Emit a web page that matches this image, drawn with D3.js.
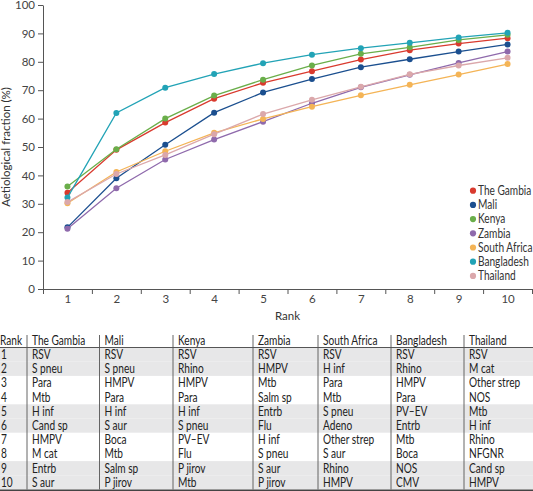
<!DOCTYPE html>
<html>
<head>
<meta charset="utf-8">
<script src="https://cdn.jsdelivr.net/npm/d3@7"></script>
<style>
  html, body { margin: 0; padding: 0; background: #fff; }
  svg { display: block; font-family: Lato, "Open Sans", sans-serif; }
</style>
</head>
<body>
<svg id="chart" width="533" height="491"></svg>
<script>
const ranks = [1, 2, 3, 4, 5, 6, 7, 8, 9, 10];
const countries = ["The Gambia", "Mali", "Kenya", "Zambia", "South Africa", "Bangladesh", "Thailand"];
const colors = ["#d93a2e", "#1b4f8f", "#6aae4a", "#8f6aac", "#f4b456", "#22a3b6", "#dba8ab"];

const gambia      = [33.9, 49.0, 58.6, 67.0, 72.6, 76.7, 80.8, 84.1, 86.4, 88.3];
const mali        = [21.7, 39.0, 50.8, 62.1, 69.2, 73.9, 78.1, 80.9, 83.6, 86.1];
const kenya       = [36.1, 49.2, 60.0, 68.1, 73.7, 78.7, 82.8, 85.1, 87.7, 89.5];
const zambia      = [21.2, 35.5, 45.6, 52.6, 58.9, 65.4, 71.0, 75.4, 79.6, 83.6];
const southAfrica = [30.2, 41.2, 48.5, 55.0, 59.9, 64.2, 68.2, 71.9, 75.5, 79.2];
const bangladesh  = [32.2, 62.0, 70.9, 75.7, 79.5, 82.5, 84.8, 86.7, 88.6, 90.2];
const thailand    = [30.6, 40.5, 47.2, 54.5, 61.6, 66.6, 71.2, 75.6, 78.7, 81.4];
const seriesValues = [gambia, mali, kenya, zambia, southAfrica, bangladesh, thailand];

const yTicks = [0, 10, 20, 30, 40, 50, 60, 70, 80, 90, 100];

const tableHeader = ["Rank", "The Gambia", "Mali", "Kenya", "Zambia", "South Africa", "Bangladesh", "Thailand"];
const colGambia      = ["RSV", "S pneu", "Para", "Mtb", "H inf", "Cand sp", "HMPV", "M cat", "Entrb", "S aur"];
const colMali        = ["RSV", "S pneu", "HMPV", "Para", "H inf", "S aur", "Boca", "Mtb", "Salm sp", "P jirov"];
const colKenya       = ["RSV", "Rhino", "HMPV", "Para", "H inf", "S pneu", "PV–EV", "Flu", "P jirov", "Mtb"];
const colZambia      = ["RSV", "HMPV", "Mtb", "Salm sp", "Entrb", "Flu", "H inf", "S pneu", "S aur", "P jirov"];
const colSouthAfrica = ["RSV", "H inf", "Para", "Mtb", "S pneu", "Adeno", "Other strep", "S aur", "Rhino", "HMPV"];
const colBangladesh  = ["RSV", "Rhino", "HMPV", "Para", "PV–EV", "Entrb", "Mtb", "Boca", "NOS", "CMV"];
const colThailand    = ["RSV", "M cat", "Other strep", "NOS", "Mtb", "H inf", "Rhino", "NFGNR", "Cand sp", "HMPV"];
const tableColumns = [ranks.map(String), colGambia, colMali, colKenya, colZambia, colSouthAfrica, colBangladesh, colThailand];

const svg = d3.select("#chart");
const textColor = "#333";
const fontSize = 11.5;
const bodySize = 12.5;
const condense = 0.81;

function addText(parent, x, yy, str, fill) {
  const g = parent.append("g").attr("transform", `translate(${x},${yy}) scale(${condense},1)`);
  return g.append("text").attr("dy", "0.35em")
    .attr("fill", fill || textColor).attr("font-size", bodySize).text(str);
}

// ---------- Chart ----------
const plot = { left: 43, right: 532, top: 5, bottom: 289 };
const x = d3.scaleLinear().domain([0.5, 10.5]).range([plot.left, plot.right]);
const y = d3.scaleLinear().domain([0, 100]).range([plot.bottom, plot.top]);

const yAxis = svg.append("g")
  .attr("transform", `translate(${plot.left},0)`)
  .call(d3.axisLeft(y).tickValues(yTicks).tickSize(5).tickSizeOuter(0).tickPadding(3));

const xAxis = svg.append("g")
  .attr("transform", `translate(0,${plot.bottom})`)
  .call(d3.axisBottom(x).tickValues(d3.range(0.5, 11, 1)).tickFormat("").tickSize(5).tickSizeOuter(0));
const xLabels = svg.append("g")
  .attr("transform", `translate(0,${plot.bottom})`)
  .call(d3.axisBottom(x).tickValues(ranks).tickFormat(d3.format("d")).tickSize(0).tickPadding(6));
xLabels.select(".domain").remove();

[yAxis, xAxis, xLabels].forEach(g => {
  g.selectAll("path.domain").attr("stroke", "#555").attr("stroke-width", 1);
  g.selectAll(".tick line").attr("stroke", "#555");
  g.selectAll(".tick text").attr("fill", "#444").attr("font-size", fontSize)
    .attr("font-family", "Lato, sans-serif");
});

svg.append("text")
  .attr("transform", `translate(10,${(plot.top + plot.bottom) / 2}) rotate(-90)`)
  .attr("text-anchor", "middle")
  .attr("fill", textColor)
  .attr("font-size", fontSize)
  .text("Aetiological fraction (%)");

svg.append("text")
  .attr("x", (plot.left + plot.right) / 2)
  .attr("y", 320)
  .attr("text-anchor", "middle")
  .attr("fill", textColor)
  .attr("font-size", fontSize)
  .text("Rank");

const line = d3.line().x((d, i) => x(ranks[i])).y(d => y(d));
const series = svg.append("g").selectAll("g")
  .data(seriesValues)
  .join("g");
series.append("path")
  .attr("d", d => line(d))
  .attr("fill", "none")
  .attr("stroke", (d, i) => colors[i])
  .attr("stroke-width", 1.3);
series.each(function(vals, si) {
  d3.select(this).selectAll("circle")
    .data(vals)
    .join("circle")
    .attr("cx", (d, i) => x(ranks[i]))
    .attr("cy", d => y(d))
    .attr("r", 3)
    .attr("fill", colors[si]);
});

// Legend
const legend = svg.append("g").attr("transform", "translate(473,190.7)");
countries.forEach((c, i) => {
  const row = legend.append("g").attr("transform", `translate(0,${i * 14.2})`);
  row.append("circle").attr("r", 3.1).attr("fill", colors[i]);
  addText(row, 5, 0, c);
});

// ---------- Table ----------
const colX = [0, 27, 99.5, 173, 253, 318, 391, 464];
const headerY = 340.5;
const headerLineY = 347.5;
const rowH = 14.2;
const table = svg.append("g");

ranks.forEach((r, i) => {
  if (Math.floor(i / 2) % 2 === 0) {
    table.append("rect")
      .attr("x", 0).attr("y", headerLineY + i * rowH)
      .attr("width", 533).attr("height", rowH)
      .attr("fill", "#e7e7e8");
  }
});

table.append("line").attr("x1", 0).attr("x2", 533)
  .attr("y1", headerLineY).attr("y2", headerLineY)
  .attr("stroke", "#555").attr("stroke-width", 1);
table.append("line").attr("x1", 0).attr("x2", 533)
  .attr("y1", headerLineY + 10 * rowH + 1).attr("y2", headerLineY + 10 * rowH + 1)
  .attr("stroke", "#444").attr("stroke-width", 2);

colX.slice(1).forEach(cx => {
  table.append("line").attr("x1", cx).attr("x2", cx)
    .attr("y1", 335).attr("y2", headerLineY + 10 * rowH)
    .attr("stroke", "#555").attr("stroke-width", 0.9);
});

tableHeader.forEach((h, ci) => {
  addText(table, ci === 0 ? 0 : colX[ci] + 5, headerY, h, "#222");
});

tableColumns.forEach((col, ci) => {
  col.forEach((val, ri) => {
    addText(table, ci === 0 ? 1 : colX[ci] + 5, headerLineY + ri * rowH + rowH / 2, val, "#222");
  });
});
</script>
</body>
</html>
